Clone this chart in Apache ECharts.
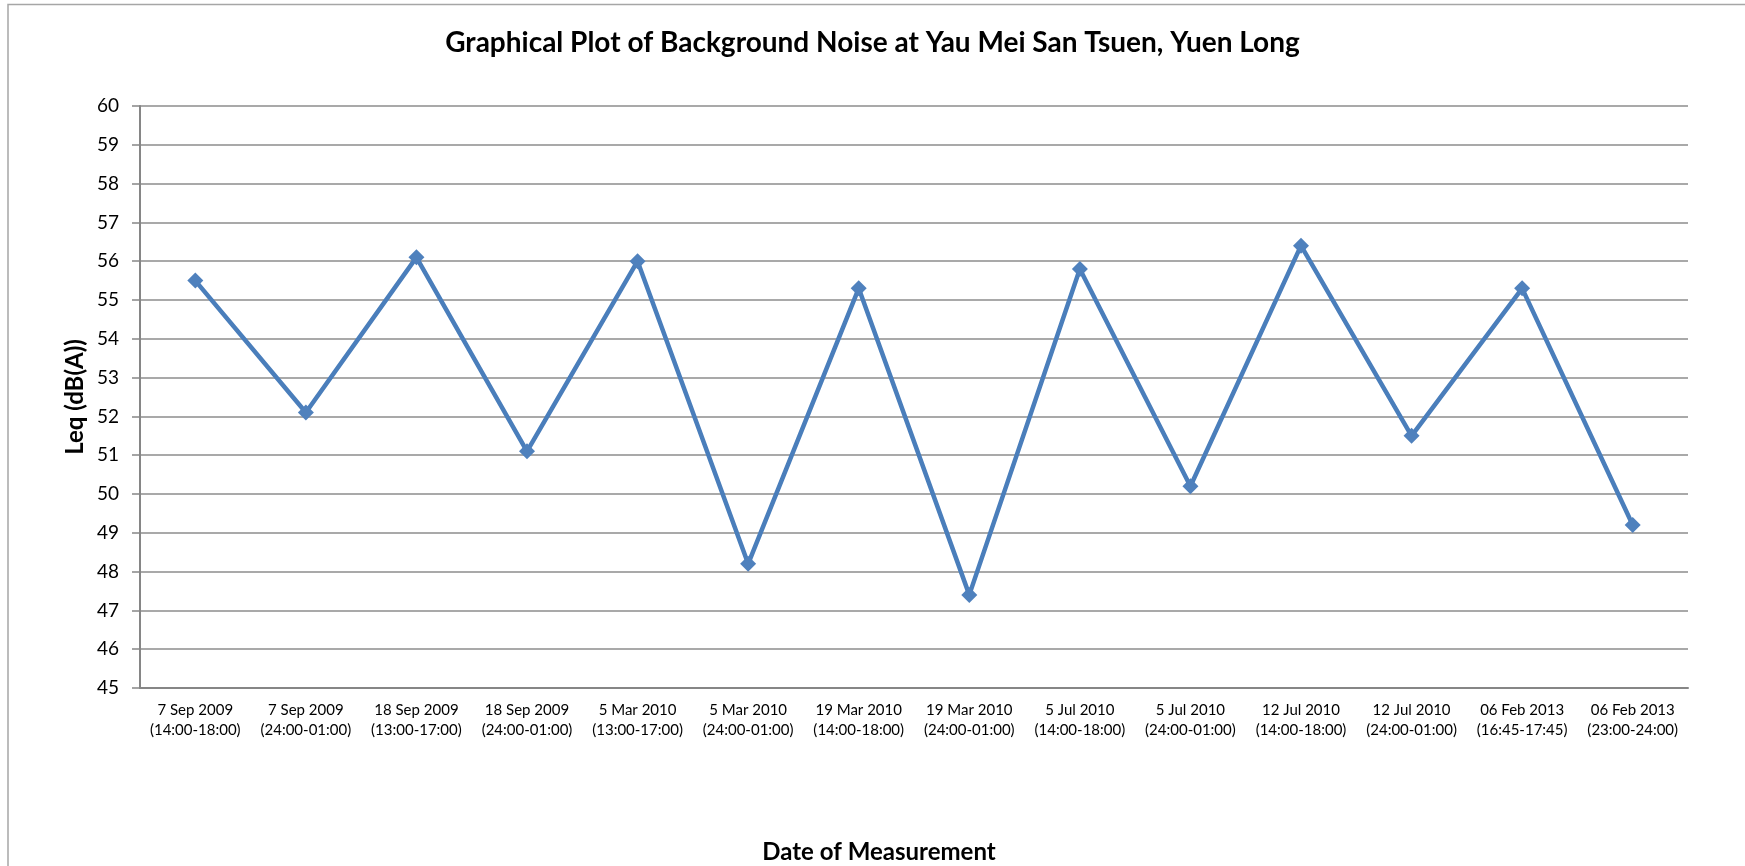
<!DOCTYPE html>
<html>
<head>
<meta charset="utf-8">
<script src="https://cdn.jsdelivr.net/npm/echarts@6/dist/echarts.min.js"></script>
<style>
html,body{margin:0;padding:0;background:#fff;}
#noise_chart{width:1745px;height:866px;}
</style>
</head>
<body>
<div id="noise_chart"></div>
<script>
let categories=[
	"7 Sep 2009\n(14:00-18:00)",
	"7 Sep 2009\n(24:00-01:00)",
	"18 Sep 2009\n(13:00-17:00)",
	"18 Sep 2009\n(24:00-01:00)",
	"5 Mar 2010\n(13:00-17:00)",
	"5 Mar 2010\n(24:00-01:00)",
	"19 Mar 2010\n(14:00-18:00)",
	"19 Mar 2010\n(24:00-01:00)",
	"5 Jul 2010\n(14:00-18:00)",
	"5 Jul 2010\n(24:00-01:00)",
	"12 Jul 2010\n(14:00-18:00)",
	"12 Jul 2010\n(24:00-01:00)",
	"06 Feb 2013\n(16:45-17:45)",
	"06 Feb 2013\n(23:00-24:00)"
];
let leq_values=[55.5,52.1,56.1,51.1,56.0,48.2,55.3,47.4,55.8,50.2,56.4,51.5,55.3,49.2];
let y_min=45;
let y_max=60;
let y_step=1;

let noise_echart=echarts.init(document.getElementById('noise_chart'));

noise_echart.setOption({
	animation:false,
	textStyle:{
		fontFamily:"Lato",
	},
	title:{
		text:"Graphical Plot of Background Noise at Yau Mei San Tsuen, Yuen Long",
		left:"center",
		top:24,
		textStyle:{
			fontFamily:"Lato",
			fontSize:28,
			fontWeight:"bold",
			color:"#000",
		},
	},
	graphic:[
		{
			type:"rect",
			shape:{x:8,y:4.5,width:1800,height:900},
			style:{fill:"none",stroke:"#a6a6a6",lineWidth:1.5},
			silent:true,
		},
		{
			type:"text",
			x:75,
			y:397,
			rotation:Math.PI/2,
			style:{
				text:"Leq (dB(A))",
				x:0,y:0,
				align:"center",
				verticalAlign:"middle",
				font:"bold 24px Lato",
				fill:"#000",
			},
		},
		{
			type:"text",
			x:879,
			y:852,
			style:{
				text:"Date of Measurement",
				x:0,y:0,
				align:"center",
				verticalAlign:"middle",
				font:"bold 24px Lato",
				fill:"#000",
			},
		},
	],
	grid:{
		left:140,
		top:106,
		right:57,
		bottom:178,
		containLabel:false,
	},
	xAxis:{
		type:"category",
		data:categories,
		boundaryGap:true,
		axisLine:{
			lineStyle:{color:"#868686",width:2},
		},
		axisTick:{show:false},
		axisLabel:{
			interval:0,
			margin:12,
			fontSize:15,
			lineHeight:20,
			color:"#000",
		},
	},
	yAxis:{
		type:"value",
		min:y_min,
		max:y_max,
		interval:y_step,
		axisLine:{
			show:true,
			lineStyle:{color:"#868686",width:2},
		},
		axisTick:{
			show:true,
			length:8,
			lineStyle:{color:"#868686",width:1.5},
		},
		axisLabel:{
			margin:21,
			fontSize:19,
			color:"#000",
		},
		splitLine:{
			lineStyle:{color:"#8c8c8c",width:1.5},
		},
	},
	series:[{
		type:"line",
		data:leq_values,
		symbol:"diamond",
		symbolSize:16,
		lineStyle:{color:"#4A7EBB",width:4.5},
		itemStyle:{color:"#4F81BD"},
	}],
});
</script>
</body>
</html>
